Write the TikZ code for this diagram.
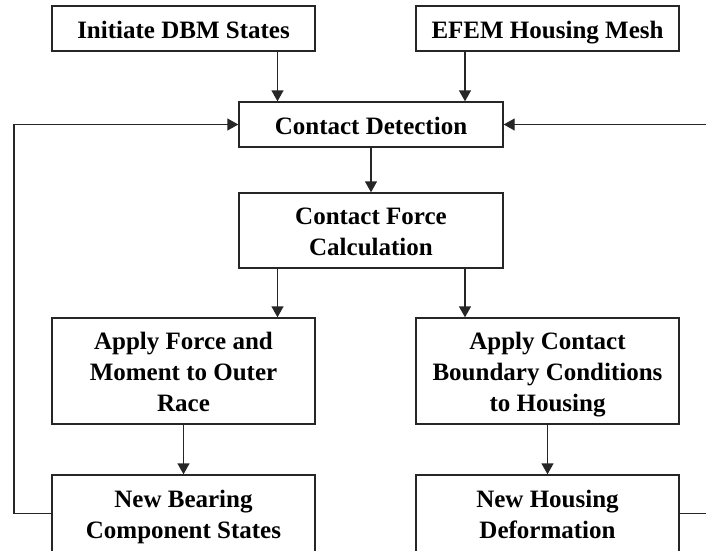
\documentclass[tikz,border=0pt]{standalone}
\usepackage{fontspec}
\setmainfont{Liberation Serif}
\usepackage{tikz}
\usetikzlibrary{arrows.meta}
\newcommand{\bxs}{\rule[-6pt]{0pt}{31pt}}

\begin{document}
\begin{tikzpicture}[x=1pt,y=-1pt,
  box/.style={draw=black!85, line width=1.4pt, minimum width=263pt, align=center, inner sep=0pt,
    font=\fontsize{25}{31}\selectfont\bfseries,
    execute at begin node=\bxs},
  arr/.style={draw=black!85, line width=1.4pt, -{Triangle[length=11pt,width=12pt]}}]
\useasboundingbox (0,0) rectangle (706,550);
\clip (0,0) rectangle (706,550);
\node[box, minimum height=45pt] (init) at (183.5,28.5) {Initiate DBM States};
\node[box, minimum height=45pt] (efem) at (547.5,28.5) {EFEM Housing Mesh};
\node[box, minimum height=45pt, minimum width=264pt] (detect) at (371,124.5) {Contact Detection};
\node[box, minimum height=75pt, minimum width=264pt] (force) at (371,230.5) {\bxs Contact Force\\Calculation\bxs};
\node[box, minimum height=106pt] (applyF) at (183.5,371) {\bxs Apply Force and\\Moment to Outer\\Race\bxs};
\node[box, minimum height=106pt] (applyC) at (547.5,371) {\bxs Apply Contact\\Boundary Conditions\\to Housing\bxs};
\node[box, minimum height=77pt] (bearing) at (183.5,513.5) {\bxs New Bearing\\Component States\bxs};
\node[box, minimum height=77pt] (housing) at (547.5,513.5) {\bxs New Housing\\Deformation\bxs};
\coordinate (p1) at (277.5,0);
\coordinate (p2) at (465,0);
\coordinate (lft) at (14,0);
\coordinate (rgt) at (712,0);
% forward flow
\draw[arr] (init.south -| p1) -- (detect.north -| p1);
\draw[arr] (efem.south -| p2) -- (detect.north -| p2);
\draw[arr] (detect) -- (force);
\draw[arr] (force.south -| p1) -- (applyF.north -| p1);
\draw[arr] (force.south -| p2) -- (applyC.north -| p2);
\draw[arr] (applyF) -- (bearing);
\draw[arr] (applyC) -- (housing);
% feedback loops
\draw[arr] (bearing.west) -- (bearing.west -| lft) -- (detect.west -| lft) -- (detect.west);
\draw[draw=black!85, line width=1.4pt] (housing.east) -- (housing.east -| rgt);
\draw[arr] (detect.east -| rgt) -- (detect.east);
\end{tikzpicture}
\end{document}
